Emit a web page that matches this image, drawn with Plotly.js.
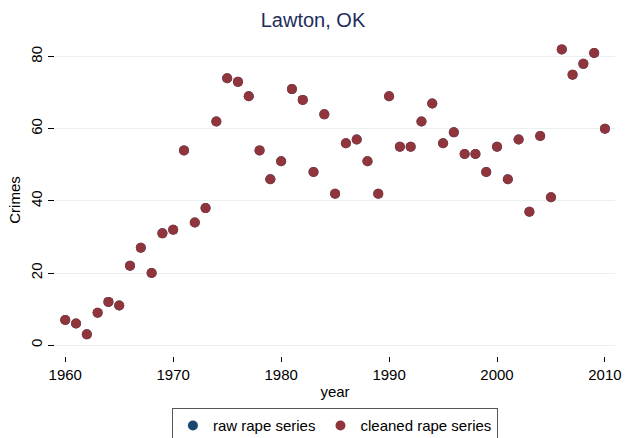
<!DOCTYPE html>
<html><head><meta charset="utf-8">
<script src="https://cdn.plot.ly/plotly-3.0.1.min.js"></script>
<style>html,body{margin:0;padding:0;background:#fff}#chart{width:626px;height:438px}</style>
</head><body><div id="chart"></div>
<script>
const years = [1960,1961,1962,1963,1964,1965,1966,1967,1968,1969,1970,1971,1972,1973,1974,1975,1976,1977,1978,1979,1980,1981,1982,1983,1984,1985,1986,1987,1988,1989,1990,1991,1992,1993,1994,1995,1996,1997,1998,1999,2000,2001,2002,2003,2004,2005,2006,2007,2008,2009,2010];
const rawRape = [7,6,3,9,12,11,22,27,20,31,32,54,34,38,62,74,73,69,54,46,51,71,68,48,64,42,56,57,51,42,69,55,55,62,67,56,59,53,53,48,55,46,57,37,58,41,82,75,78,81,60];
const cleanedRape = [7,6,3,9,12,11,22,27,20,31,32,54,34,38,62,74,73,69,54,46,51,71,68,48,64,42,56,57,51,42,69,55,55,62,67,56,59,53,53,48,55,46,57,37,58,41,82,75,78,81,60];
const xTicks = [1960,1970,1980,1990,2000,2010];
const yTicks = [0,20,40,60,80];

const font = {family: 'Liberation Sans, Arial, sans-serif', color: '#000', size: 15};
const traces = [
  {x: years, y: rawRape, type: 'scatter', mode: 'markers', name: 'raw rape series',
   marker: {color: '#1a476f', size: 10}},
  {x: years, y: cleanedRape, type: 'scatter', mode: 'markers', name: 'cleaned rape series',
   marker: {color: '#90353b', size: 10}}
];
const layout = {
  width: 626, height: 438,
  margin: {l: 55, r: 11, t: 44, b: 82},
  paper_bgcolor: '#fff', plot_bgcolor: '#fff',
  font: font,
  title: {text: 'Lawton, OK', font: {family: font.family, size: 20, color: '#1e2d5a'}, x: 0.5, xanchor: 'center', y: 0.955, yanchor: 'middle'},
  xaxis: {range: [1959.05, 2010.93], tickvals: xTicks, ticks: 'outside', ticklen: 5, tickcolor: '#000', tickwidth: 1,
    showgrid: false, zeroline: false, showline: false, tickfont: {size: 15},
    title: {text: 'year', font: {size: 15}, standoff: 4}},
  yaxis: {range: [-3.0, 83.5], tickvals: yTicks, ticks: 'outside', ticklen: 6, tickcolor: '#000', tickwidth: 1,
    tickangle: -90, showgrid: true, gridcolor: '#eaf0f0', gridwidth: 1, zeroline: false, showline: false,
    tickfont: {size: 15}, title: {text: 'Crimes', font: {size: 15}, standoff: 3}},
  showlegend: true,
  legend: {orientation: 'h', xref: 'container', yref: 'container', x: 0.535, xanchor: 'center', y: 0.068, yanchor: 'top',
    bordercolor: '#555', borderwidth: 1, font: {size: 15}, itemsizing: 'trace', itemwidth: 30}
};
Plotly.newPlot('chart', traces, layout, {staticPlot: true, displayModeBar: false});
</script></body></html>
